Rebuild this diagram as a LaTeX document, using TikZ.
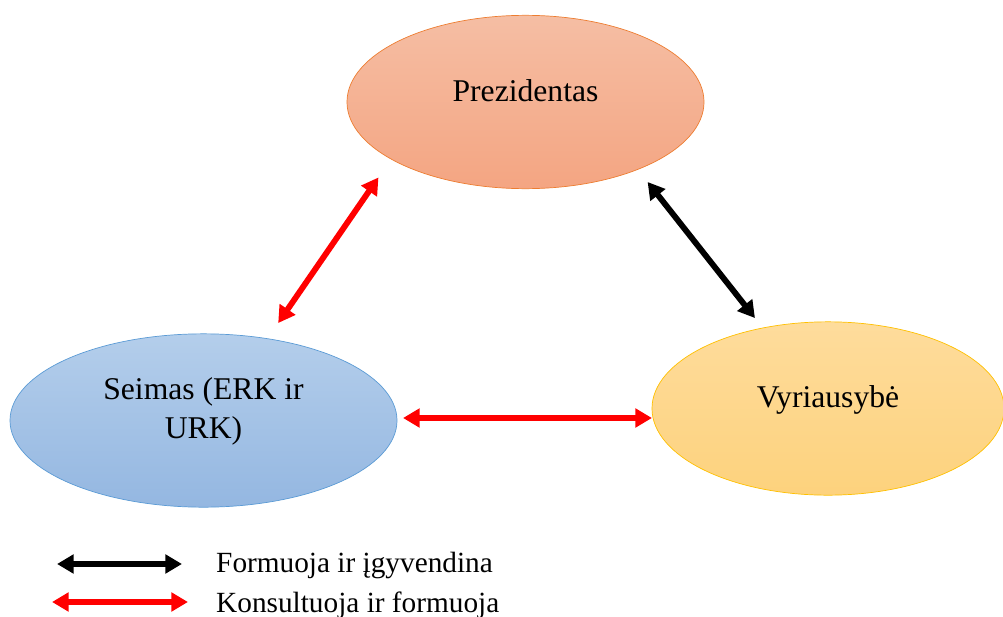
\documentclass[tikz,border=0pt]{standalone}
\usepackage{fontspec}
\setmainfont{Liberation Serif}
\usetikzlibrary{arrows.meta, positioning, shapes.geometric, calc}
\definecolor{prezline}{HTML}{ED7D31}
\definecolor{preztop}{HTML}{F5BEA4}
\definecolor{prezbot}{HTML}{F4A582}
\definecolor{seimline}{HTML}{5B9BD5}
\definecolor{seimtop}{HTML}{B4CEEB}
\definecolor{seimbot}{HTML}{94B7E1}
\definecolor{vyrline}{HTML}{FFC000}
\definecolor{vyrtop}{HTML}{FEDC9C}
\definecolor{vyrbot}{HTML}{FDD27D}
\newcommand{\legfont}{\fontsize{25}{30}\selectfont}

\begin{document}
\begin{tikzpicture}[x=0.03cm, y=-0.03cm,
    actor/.style={ellipse, line width=0.6pt, minimum height=5.2cm, outer sep=0pt,
                  align=center, font=\fontsize{27}{34}\selectfont, text depth=0.66cm},
    link/.style={{Triangle[length=0.5cm,width=0.55cm]}-{Triangle[length=0.5cm,width=0.55cm]},
                 line width=5pt}
]
\useasboundingbox (0,0) rectangle (1003,617);
\node[actor, minimum width=10.71cm, draw=prezline, top color=preztop, bottom color=prezbot]
    (prez) at (525.5,102) {Prezidentas};
\node[actor, minimum width=11.61cm, draw=seimline, top color=seimtop, bottom color=seimbot,
      text depth=0.75cm] (seim) at (203.5,420.5) {Seimas (ERK ir\\URK)};
\node[actor, minimum width=10.56cm, draw=vyrline, top color=vyrtop, bottom color=vyrbot,
      text depth=0.72cm] (vyr) at (828,408.5) {Vyriausybė};
% rysiai
\draw[link, red, shorten <=0.57cm, shorten >=0.67cm] (seim.52) -- (prez.203);
\draw[link, black, shorten <=0.48cm, shorten >=0.38cm] (prez.329) -- (vyr.129);
\draw[link, red, shorten <=0.18cm] ([yshift=0.075cm]seim.east) -- ([yshift=0.075cm]seim.east -| vyr.west);
% legenda
\coordinate (lb1) at (57,564);
\coordinate (lb2) at (182,564);
\coordinate (lr1) at (52,602);
\coordinate (lr2) at (188,602);
\draw[link, black] (lb1) -- (lb2);
\draw[link, red] (lr1) -- (lr2);
\node[anchor=base west, font=\legfont, inner sep=0pt] (lbtext) at (216,572) {Formuoja ir įgyvendina};
\node[anchor=base west, font=\legfont, inner sep=0pt] (lrtext) at (216,612) {Konsultuoja ir formuoja};
\end{tikzpicture}
\end{document}
